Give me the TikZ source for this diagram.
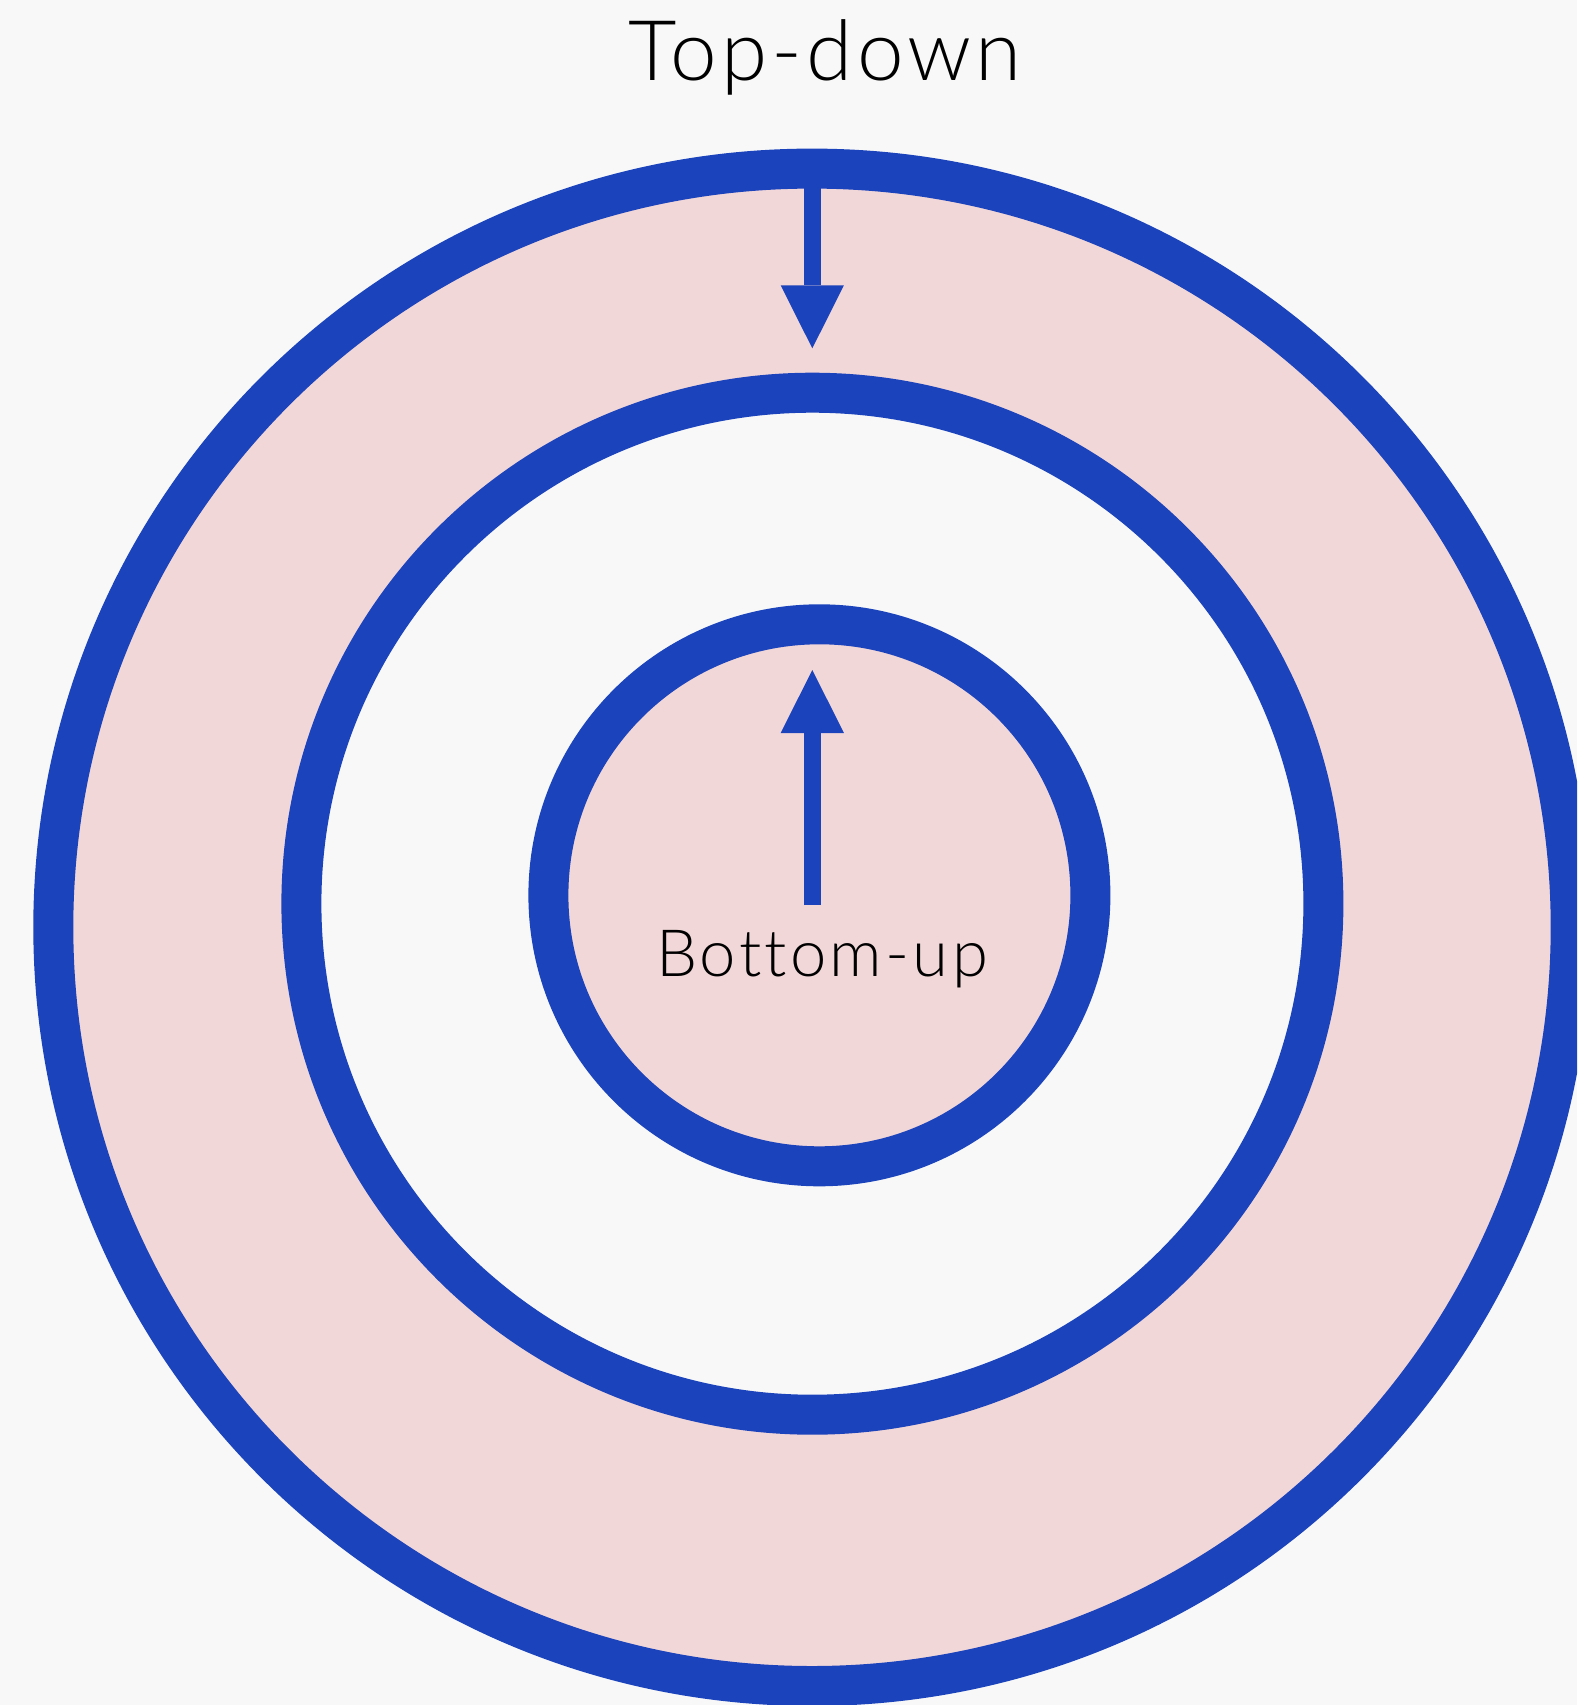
\documentclass[tikz,border=0pt]{standalone}
\usepackage{fontspec}
\setmainfont{Lato Light}[Ligatures={NoCommon,NoRare}, LetterSpace=5]
\usetikzlibrary{arrows.meta}
\definecolor{bg}{RGB}{248,248,248}
\definecolor{ringblue}{RGB}{27,67,187}
\definecolor{ringpink}{RGB}{242,215,216}
\tikzset{
  ring/.style={draw=ringblue, line width=40pt},
  flow/.style={draw=ringblue, line width=16.7pt,
    -{Triangle[width=63.3pt,length=63pt,line width=0pt]}},
  lbl/.style={anchor=base, inner sep=0pt, text=black}
}
\begin{document}
\begin{tikzpicture}[x=1pt,y=-1pt]
  \useasboundingbox (0,0) rectangle (1577,1705);
  \clip (0,0) rectangle (1577,1705);
  \fill[bg] (0,0) rectangle (1577,1705);
  \path[ring, fill=ringpink] (812,927.3) circle[radius=758.7];
  \path[ring, fill=bg] (812.4,903.7) circle[radius=511];
  \path[ring, fill=ringpink] (819.4,895.3) circle[radius=271];
  \coordinate (tdstart) at (812.3,170);
  \coordinate (tdend) at (812.3,348.3);
  \coordinate (bustart) at (812.3,905);
  \coordinate (buend) at (812.3,670);
  \draw[flow] (tdstart) -- (tdend);
  \draw[flow] (bustart) -- (buend);
  \node[lbl, font=\fontsize{83.7}{90}\selectfont] (topdown) at (825,80.7) {Top-down};
  \node[lbl, font=\fontsize{65.2}{70}\selectfont] (bottomup) at (822,976) {Bottom-up};
\end{tikzpicture}
\end{document}
